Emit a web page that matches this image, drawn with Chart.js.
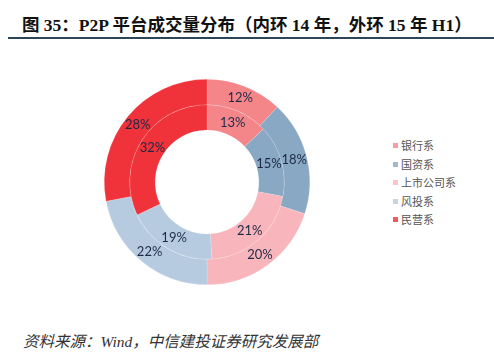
<!DOCTYPE html>
<html lang="zh">
  <head>
    <meta charset="UTF-8" />
    <title>P2P 平台成交量分布</title>
    <script src="https://cdn.jsdelivr.net/npm/chart.js"></script>
    <style>
      html, body { margin: 0; padding: 0; background: #fff; }
      body { width: 494px; height: 361px; position: relative; overflow: hidden; }
      #title {
        position: absolute; left: 22px; top: 11px; white-space: nowrap;
        font-family: "Liberation Serif", "Noto Sans CJK SC", serif;
        font-weight: bold; font-size: 17.5px; color: #111;
      }
      #rule {
        position: absolute; left: 8px; right: 0; top: 37px; height: 2px;
        background: #2b4656;
      }
      #wrap { position: absolute; left: 97px; top: 72px; width: 220px; height: 220px; }
      #legend {
        position: absolute; left: 393px; top: 137px;
        font-family: "Noto Sans CJK SC", sans-serif; font-size: 11px; color: #555;
      }
      #legend div { height: 18.5px; line-height: 16px; white-space: nowrap; }
      #legend span.sw {
        display: inline-block; width: 5px; height: 5px; margin-right: 3px;
        vertical-align: 2px;
      }
      #source {
        position: absolute; left: 23px; top: 329px; white-space: nowrap;
        font-family: "Liberation Serif", "Noto Sans CJK SC", serif;
        font-style: italic; font-size: 15.5px; color: #333;
      }
    </style>
  </head>
  <body>
    <div id="title">图 35：P2P 平台成交量分布（内环 14 年，外环 15 年 H1）</div>
    <div id="rule"></div>
    <div id="wrap"><canvas id="ring" width="220" height="220"></canvas></div>
    <div id="legend"></div>
    <div id="source">资料来源：Wind，中信建投证券研究发展部</div>

    <script>
      // categories and shares (%)
      const categories = ["银行系", "国资系", "上市公司系", "风投系", "民营系"];
      const outer15H1 = [12, 18, 20, 22, 28]; // 外环 15 年 H1
      const inner14 = [13, 15, 21, 19, 32]; // 内环 14 年
      const colors = ["#f4868a", "#89a8c3", "#f8b5bb", "#b7cbe0", "#f0323a"];

      // legend on the right
      const legendEl = document.getElementById("legend");
      categories.forEach((c, i) => {
        const d = document.createElement("div");
        d.innerHTML = `<span class="sw" style="background:${colors[i]};opacity:0.8"></span>${c}`;
        legendEl.appendChild(d);
      });

      // draw the % labels at the middle of every arc
      const pctLabels = {
        id: "pctLabels",
        afterDatasetsDraw(chart) {
          const ctx = chart.ctx;
          ctx.save();
          ctx.font = "13px Lato, sans-serif";
          ctx.fillStyle = "#1d2a47";
          ctx.textAlign = "center";
          ctx.textBaseline = "middle";
          chart.data.datasets.forEach((ds, di) => {
            chart.getDatasetMeta(di).data.forEach((arc, i) => {
              const p = arc.tooltipPosition();
              ctx.fillText(ds.data[i] + "%", p.x, p.y);
            });
          });
          ctx.restore();
        },
      };

      new Chart(document.getElementById("ring"), {
        type: "doughnut",
        data: {
          labels: categories,
          datasets: [
            { label: "15 年 H1", data: outer15H1, backgroundColor: colors,
              borderColor: "rgba(255,255,255,0.3)", borderWidth: 0.5 },
            { label: "14 年", data: inner14, backgroundColor: colors,
              borderColor: "rgba(255,255,255,0.3)", borderWidth: 0.5 },
          ],
        },
        options: {
          responsive: false,
          animation: false,
          cutout: "50.5%",
          layout: { padding: 7 },
          plugins: { legend: { display: false }, tooltip: { enabled: false } },
        },
        plugins: [pctLabels],
      });
    </script>
  </body>
</html>
